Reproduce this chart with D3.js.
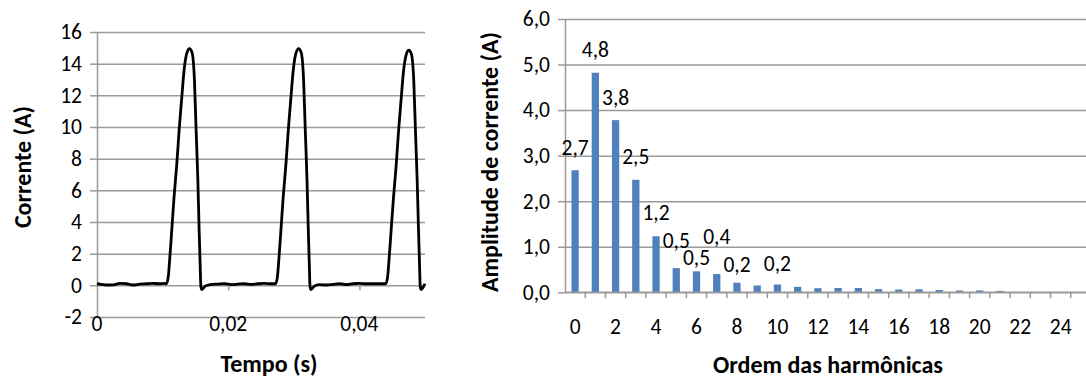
<!DOCTYPE html>
<html>
<head>
<meta charset="utf-8">
<script src="https://cdn.jsdelivr.net/npm/d3@7"></script>
<style>
  html, body { margin: 0; padding: 0; background: #fff; }
  svg { display: block; }
  text { font-family: Carlito, Calibri, Lato, sans-serif; fill: #000; }
</style>
</head>
<body>
<svg id="chart" width="1086" height="379"></svg>
<script>
// ---------- Data: left chart (current waveform) ----------
const timeS = [
  0, 0.0008, 0.0015, 0.0025, 0.0035, 0.0045, 0.0055, 0.0065, 0.0075, 0.0085, 0.0095, 0.0103,
  0.01058, 0.01088, 0.01104, 0.01140, 0.01175, 0.01217, 0.01252, 0.01293, 0.01328, 0.01369, 0.01409,
  0.01449, 0.01485, 0.01511, 0.01537, 0.01557, 0.01572, 0.01583, 0.01598, 0.01649, 0.01725,
  0.0185, 0.0195, 0.0205, 0.0215, 0.0225, 0.0235, 0.0245, 0.0255, 0.0265, 0.0270,
  0.02722, 0.02752, 0.02768, 0.02804, 0.02839, 0.02881, 0.02916, 0.02957, 0.02992, 0.03033, 0.03073,
  0.03113, 0.03149, 0.03175, 0.03201, 0.03221, 0.03236, 0.03247, 0.03262, 0.03313, 0.03389,
  0.0350, 0.0360, 0.0370, 0.0380, 0.0390, 0.0400, 0.0410, 0.0420, 0.0430, 0.0438,
  0.04402, 0.04432, 0.04448, 0.04484, 0.04519, 0.04561, 0.04596, 0.04637, 0.04672, 0.04713, 0.04753,
  0.04793, 0.04829, 0.04855, 0.04881, 0.04901, 0.04916, 0.04927, 0.04942, 0.04975, 0.05000
];
const currentA = [
  0.10, 0.05, 0.02, 0.03, 0.12, 0.10, 0.02, 0.08, 0.10, 0.13, 0.10, 0.12,
  0.10, 0.6, 1.4, 3.5, 5.6, 7.7, 9.8, 11.9, 13.6, 14.66, 14.95,
  14.7, 13.0, 9.8, 6.7, 3.5, 1.4, -0.06, -0.27, -0.05, 0.05,
  0.08, 0.10, 0.05, 0.08, 0.10, 0.06, 0.10, 0.12, 0.10, 0.10,
  0.10, 0.6, 1.4, 3.5, 5.6, 7.7, 9.8, 11.9, 13.6, 14.66, 14.95,
  14.7, 13.0, 9.8, 6.7, 3.5, 1.4, -0.06, -0.27, -0.05, 0.05,
  0.02, 0.06, 0.10, 0.04, 0.10, 0.12, 0.10, 0.10, 0.10, 0.10,
  0.10, 0.6, 1.4, 3.5, 5.5, 7.6, 9.7, 11.8, 13.5, 14.56, 14.85,
  14.6, 12.9, 9.7, 6.6, 3.5, 1.4, -0.06, -0.27, -0.10, 0.10
];
const yTicksLeft = [-2, 0, 2, 4, 6, 8, 10, 12, 14, 16];
const xTicksLeft = [0, 0.02, 0.04];
const xTickLabelsLeft = ["0", "0,02", "0,04"];

// ---------- Data: right chart (harmonic spectrum) ----------
const harmonics = [0,1,2,3,4,5,6,7,8,9,10,11,12,13,14,15,16,17,18,19,20,21,22,23,24,25];
const amplitude = [2.68, 4.82, 3.78, 2.47, 1.23, 0.53, 0.46, 0.40, 0.21, 0.15, 0.17, 0.12, 0.09,
                   0.095, 0.095, 0.07, 0.06, 0.065, 0.05, 0.04, 0.04, 0.03, 0, 0, 0, 0];
const labeledHarmonics = [0, 1, 2, 3, 4, 5, 6, 7, 8, 10];
const yTicksRight = [0, 1, 2, 3, 4, 5, 6];
const xTickLabelsRight = ["0","2","4","6","8","10","12","14","16","18","20","22","24"];

// ---------- Drawing ----------
const svg = d3.select("#chart");
const gridColor = "#9a9a9a";
const FONT = "Carlito, Calibri, Lato, sans-serif";
const tickFS = 21.5;
const titleFS = 24;
const fmt1 = v => d3.format(".1f")(v).replace(".", ",");

// ===== Left chart =====
const xL = d3.scaleLinear().domain([0, 0.05]).range([97, 425]);
const yL = d3.scaleLinear().domain([-2, 16]).range([317, 32]);
const left = svg.append("g");

left.append("g")
  .attr("transform", `translate(${xL(0)},0)`)
  .call(d3.axisLeft(yL).tickValues(yTicksLeft).tickSize(7).tickSizeOuter(0).tickFormat(d => String(d)))
  .call(g => g.select(".domain").attr("stroke", gridColor).attr("stroke-width", 1.5))
  .call(g => g.selectAll(".tick line").attr("stroke", gridColor).attr("stroke-width", 1.5))
  .call(g => g.selectAll(".tick text").attr("x", -15).attr("font-size", tickFS).attr("font-family", FONT).attr("fill", "#000"))
  .call(g => g.selectAll(".tick").append("line")
      .attr("x1", 0).attr("x2", xL(0.05) - xL(0))
      .attr("stroke", gridColor).attr("stroke-width", 1.5));

left.append("g")
  .attr("transform", `translate(0,${yL(0)})`)
  .call(d3.axisBottom(xL).tickValues(xTicksLeft.slice(1)).tickSize(5).tickSizeOuter(0).tickFormat(""))
  .call(g => g.select(".domain").remove())
  .call(g => g.selectAll(".tick line").attr("stroke", gridColor).attr("stroke-width", 1.5));

left.append("g").selectAll("text")
  .data(xTicksLeft)
  .join("text")
  .attr("x", d => xL(d))
  .attr("y", yL(-2) + 14)
  .attr("text-anchor", "middle")
  .attr("font-size", tickFS)
  .text((d, i) => xTickLabelsLeft[i]);

const pts = timeS.map((t, i) => [t, currentA[i]]);
left.append("path")
  .datum(pts)
  .attr("fill", "none")
  .attr("stroke", "#000")
  .attr("stroke-width", 2.8)
  .attr("stroke-linejoin", "round")
  .attr("d", d3.line().x(d => xL(d[0])).y(d => yL(d[1])).curve(d3.curveMonotoneX));

left.append("text")
  .attr("x", 269).attr("y", 372)
  .attr("text-anchor", "middle")
  .attr("font-weight", "bold").attr("font-size", titleFS)
  .text("Tempo (s)");
left.append("text")
  .attr("transform", "translate(31,167) rotate(-90)")
  .attr("text-anchor", "middle")
  .attr("font-weight", "bold").attr("font-size", titleFS)
  .text("Corrente (A)");

// ===== Right chart =====
const xR = d3.scaleBand().domain(harmonics).range([565, 1091]).paddingInner(0).paddingOuter(0);
const yR = d3.scaleLinear().domain([0, 6]).range([292.3, 19]);
const right = svg.append("g");

right.append("g")
  .attr("transform", `translate(565,0)`)
  .call(d3.axisLeft(yR).tickValues(yTicksRight).tickSize(7).tickSizeOuter(0).tickFormat(fmt1))
  .call(g => g.select(".domain").attr("stroke", gridColor).attr("stroke-width", 1.5))
  .call(g => g.selectAll(".tick line").attr("stroke", gridColor).attr("stroke-width", 1.5))
  .call(g => g.selectAll(".tick text").attr("x", -15).attr("font-size", tickFS).attr("font-family", FONT).attr("fill", "#000"))
  .call(g => g.selectAll(".tick").append("line")
      .attr("x1", 0).attr("x2", 1091 - 565)
      .attr("stroke", gridColor).attr("stroke-width", 1.5));

right.append("g").selectAll("line")
  .data(harmonics)
  .join("line")
  .attr("x1", d => xR(d) + xR.bandwidth())
  .attr("x2", d => xR(d) + xR.bandwidth())
  .attr("y1", yR(0)).attr("y2", yR(0) + 6)
  .attr("stroke", gridColor).attr("stroke-width", 1.5);

const barW = xR.bandwidth() * 0.36;
right.append("g").selectAll("rect")
  .data(harmonics)
  .join("rect")
  .attr("x", d => xR(d) + (xR.bandwidth() - barW) / 2)
  .attr("width", barW)
  .attr("y", (d, i) => yR(amplitude[i]))
  .attr("height", (d, i) => yR(0) - yR(amplitude[i]))
  .attr("fill", "#4F81BD");

right.append("line")
  .attr("x1", 565).attr("x2", 1091)
  .attr("y1", yR(0)).attr("y2", yR(0))
  .attr("stroke", gridColor).attr("stroke-width", 1.5);

// data labels (manual offsets as in the original layout)
const labelLift = {0: 22, 1: 22.5, 2: 22, 3: 23, 4: 23, 5: 27, 6: 13, 7: 37, 8: 18, 10: 21};
right.append("g").selectAll("text")
  .data(labeledHarmonics)
  .join("text")
  .attr("x", d => xR(d) + xR.bandwidth() / 2)
  .attr("y", d => yR(amplitude[d]) - labelLift[d])
  .attr("dy", "0.33em")
  .attr("text-anchor", "middle")
  .attr("font-size", tickFS)
  .text(d => fmt1(amplitude[d]));

right.append("g").selectAll("text")
  .data(xTickLabelsRight)
  .join("text")
  .attr("x", d => xR(+d) + xR.bandwidth() / 2)
  .attr("y", 334)
  .attr("text-anchor", "middle")
  .attr("font-size", tickFS)
  .text(d => d);

right.append("text")
  .attr("x", 828).attr("y", 373)
  .attr("text-anchor", "middle")
  .attr("font-weight", "bold").attr("font-size", titleFS)
  .text("Ordem das harmônicas");
right.append("text")
  .attr("transform", "translate(498,162) rotate(-90)")
  .attr("text-anchor", "middle")
  .attr("font-weight", "bold").attr("font-size", titleFS)
  .text("Amplitude de corrente (A)");
</script>
</body>
</html>
